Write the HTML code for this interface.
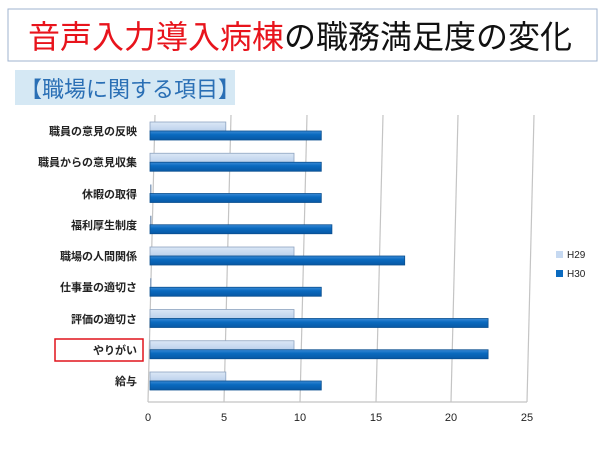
<!DOCTYPE html>
<html><head><meta charset="utf-8"><style>
body{margin:0;width:600px;height:444px;background:#fff;overflow:hidden;font-family:"Liberation Sans","Noto Sans CJK JP",sans-serif}
</style></head><body>
<svg width="600" height="444" xmlns="http://www.w3.org/2000/svg" font-family="Liberation Sans, Noto Sans CJK JP, sans-serif">
<defs>
<linearGradient id="d" x1="0" y1="0" x2="0" y2="1"><stop offset="0" stop-color="#3a8ad6"/><stop offset="0.4" stop-color="#0a6abf"/><stop offset="1" stop-color="#0858a5"/></linearGradient>
<linearGradient id="l" x1="0" y1="0" x2="0" y2="1"><stop offset="0" stop-color="#dbe7f6"/><stop offset="1" stop-color="#bcd1ec"/></linearGradient>
</defs>
<rect x="8" y="9" width="589" height="52" fill="#fff" stroke="#9fb3cf" stroke-width="1"/>
<text x="28" y="48" font-size="32" fill="#e8141c">音声入力導入病棟<tspan fill="#111">の職務満足度の変化</tspan></text>
<rect x="15" y="70" width="220" height="35" fill="#d5e8f4"/>
<text x="20" y="97" font-size="22" fill="#2a6fb5">【職場に関する項目】</text>
<g stroke="#c4c4c4" stroke-width="1.2" fill="none">
<line x1="148" y1="402" x2="155" y2="115"/>
<line x1="224" y1="402" x2="231" y2="115"/>
<line x1="300" y1="402" x2="307" y2="115"/>
<line x1="376" y1="402" x2="383" y2="115"/>
<line x1="451" y1="402" x2="458" y2="115"/>
<line x1="527" y1="402" x2="534" y2="115"/>
<line x1="148" y1="402" x2="527" y2="402"/>
</g>
<g stroke-width="0.8">
<rect x="150" y="122" width="75.8" height="9" fill="url(#l)" stroke="#8ea4c0"/>
<rect x="150" y="131" width="171.3" height="9" fill="url(#d)" stroke="#0a4f8f"/>
<rect x="150" y="153.25" width="144" height="9" fill="url(#l)" stroke="#8ea4c0"/>
<rect x="150" y="162.25" width="171.3" height="9" fill="url(#d)" stroke="#0a4f8f"/>
<rect x="150" y="184.5" width="1.5" height="9" fill="#8ea4c0"/>
<rect x="150" y="193.5" width="171.3" height="9" fill="url(#d)" stroke="#0a4f8f"/>
<rect x="150" y="215.75" width="1.5" height="9" fill="#8ea4c0"/>
<rect x="150" y="224.75" width="181.9" height="9" fill="url(#d)" stroke="#0a4f8f"/>
<rect x="150" y="247" width="144" height="9" fill="url(#l)" stroke="#8ea4c0"/>
<rect x="150" y="256" width="254.7" height="9" fill="url(#d)" stroke="#0a4f8f"/>
<rect x="150" y="278.25" width="1.5" height="9" fill="#8ea4c0"/>
<rect x="150" y="287.25" width="171.3" height="9" fill="url(#d)" stroke="#0a4f8f"/>
<rect x="150" y="309.5" width="144" height="9" fill="url(#l)" stroke="#8ea4c0"/>
<rect x="150" y="318.5" width="338.1" height="9" fill="url(#d)" stroke="#0a4f8f"/>
<rect x="150" y="340.75" width="144" height="9" fill="url(#l)" stroke="#8ea4c0"/>
<rect x="150" y="349.75" width="338.1" height="9" fill="url(#d)" stroke="#0a4f8f"/>
<rect x="150" y="372" width="75.8" height="9" fill="url(#l)" stroke="#8ea4c0"/>
<rect x="150" y="381" width="171.3" height="9" fill="url(#d)" stroke="#0a4f8f"/>
</g>
<g font-size="11" text-anchor="end" font-weight="bold" fill="#222">
<text x="137" y="135">職員の意見の反映</text>
<text x="137" y="166">職員からの意見収集</text>
<text x="137" y="198">休暇の取得</text>
<text x="137" y="229">福利厚生制度</text>
<text x="137" y="260">職場の人間関係</text>
<text x="137" y="291">仕事量の適切さ</text>
<text x="137" y="323">評価の適切さ</text>
<text x="137" y="354">やりがい</text>
<text x="137" y="385">給与</text>
</g>
<rect x="55" y="339" width="88" height="22" fill="none" stroke="#e0141c" stroke-width="1.5"/>
<g font-size="11" text-anchor="middle" fill="#222">
<text x="148" y="421">0</text><text x="224" y="421">5</text><text x="300" y="421">10</text><text x="376" y="421">15</text><text x="451" y="421">20</text><text x="527" y="421">25</text>
</g>
<rect x="556" y="251" width="7" height="7" fill="#c6d9f1"/>
<text x="567" y="258" font-size="10" fill="#222">H29</text>
<rect x="556" y="270" width="7" height="7" fill="#0a6abf"/>
<text x="567" y="277" font-size="10" fill="#222">H30</text>
</svg>
</body></html>
